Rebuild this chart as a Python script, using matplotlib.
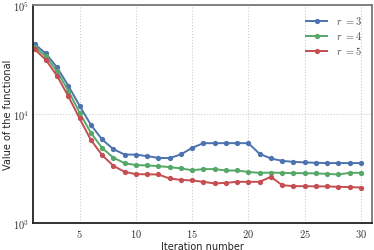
import matplotlib
matplotlib.use("Agg")
import matplotlib.pyplot as plt
import numpy as np

iterations = list(range(1, 31))
r3 = [43600, 35800, 26650, 18100, 11870, 7950, 5840, 4760, 4250, 4240,
      4110, 3960, 3940, 4260, 4890, 5400, 5400, 5400, 5400, 5400,
      4310, 3910, 3720, 3640, 3600, 3570, 3550, 3550, 3550, 3550]
r4 = [41300, 33700, 24500, 16300, 10280, 6720, 4880, 3980, 3540, 3400,
      3380, 3325, 3260, 3170, 3055, 3125, 3125, 3035, 3035, 2940,
      2890, 2900, 2890, 2870, 2870, 2850, 2830, 2790, 2890, 2890]
r5 = [39200, 31300, 22300, 14500, 9100, 5790, 4200, 3350, 2950, 2810,
      2800, 2790, 2565, 2490, 2460, 2390, 2310, 2340, 2390, 2390,
      2390, 2655, 2230, 2180, 2180, 2170, 2170, 2150, 2140, 2120]
labels = [r'$r\ =3$', r'$r\ =4$', r'$r\ =5$']
colors = ['#4C72B0', '#55A868', '#C44E52']
xticks = [5, 10, 15, 20, 25, 30]

plt.rcParams['mathtext.fontset'] = 'cm'
fig = plt.figure(figsize=(3.74, 2.51), dpi=100)
ax = fig.add_axes([0.088, 0.107, 0.907, 0.870])

for ys, lab, c in zip([r3, r4, r5], labels, colors):
    ax.plot(iterations, ys, '-o', color=c, lw=1.4, ms=3.8, label=lab,
            markeredgewidth=0)

ax.set_yscale('log')
ax.set_ylim(1e3, 1e5)
ax.set_xlim(0.85, 31)
ax.set_xticks(xticks)
ax.set_xticklabels([f'${t}$' for t in xticks])
ax.set_yticks([1e3, 1e4, 1e5])
ax.set_yticklabels([r'$10^{3}$', r'$10^{4}$', r'$10^{5}$'])
ax.yaxis.set_minor_locator(matplotlib.ticker.NullLocator())
ax.tick_params(axis='x', length=0, labelsize=7.5, colors='#333333', pad=3)
ax.tick_params(axis='y', length=0, labelsize=7.5, colors='#333333', pad=3)
ax.grid(True, which='major', ls=':', color='#cccccc', lw=0.8)

for s in ['top', 'right']:
    ax.spines[s].set_color('#777777')
    ax.spines[s].set_linewidth(1.3)
for s in ['left', 'bottom']:
    ax.spines[s].set_color('#222222')
    ax.spines[s].set_linewidth(1.3)

ax.set_xlabel('Iteration number', fontsize=7, color='#222222', labelpad=1)
ax.set_ylabel('Value of the functional', fontsize=7, color='#222222', labelpad=0)

leg = ax.legend(loc='upper right', frameon=False, fontsize=7.5, handlelength=2.0,
                handletextpad=0.9, borderaxespad=0.5, labelspacing=0.3)
for t in leg.get_texts():
    t.set_color('#444444')

fig.savefig('out.png', dpi=100)
